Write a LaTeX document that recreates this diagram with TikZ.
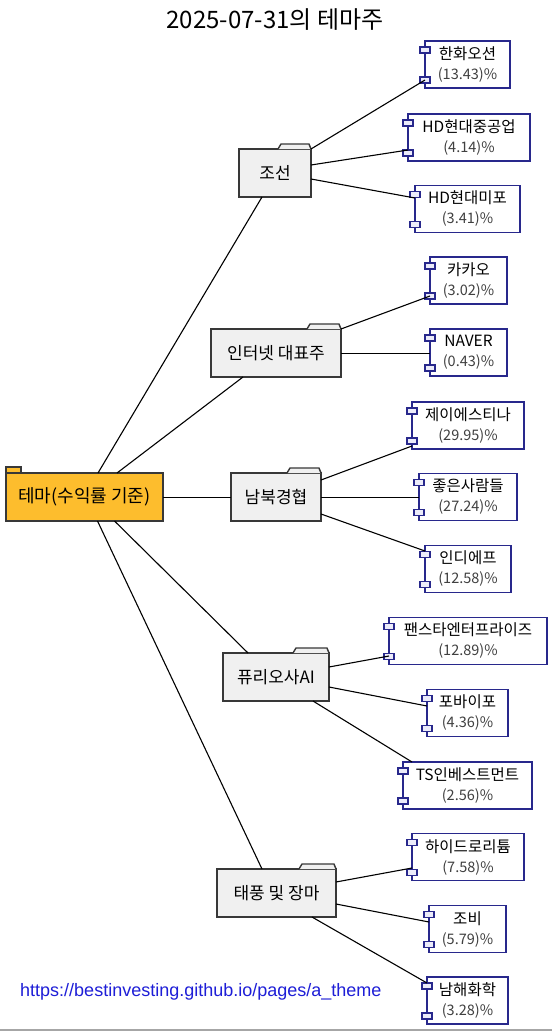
\documentclass[tikz,border=0pt]{standalone}
\usepackage{fontspec}
\setmainfont{Noto Sans CJK KR}
\newfontfamily\urlfont{Liberation Sans}
\usetikzlibrary{calc}
\definecolor{rootfill}{RGB}{253,189,45}
\definecolor{grpfill}{RGB}{240,240,240}
\definecolor{grpline}{RGB}{56,56,56}
\definecolor{leafline}{RGB}{40,40,140}
\definecolor{portfill}{RGB}{236,236,250}
\definecolor{urlblue}{RGB}{30,30,215}
\tikzset{
 grp/.style={draw=grpline, fill=grpfill, line width=1.4pt, minimum height=48pt, inner sep=0pt, outer sep=0pt, font=\fontsize{17}{20}\selectfont},
 rootbox/.style={grp, fill=rootfill, font=\fontsize{18}{20}\selectfont},
 leaf/.style={draw=leafline, fill=white, line width=1.2pt, minimum height=47pt, inner sep=0pt, outer sep=0pt, align=center, font=\fontsize{15.5}{19}\selectfont},
 port/.style={draw=leafline, fill=portfill, line width=1.2pt},
 edge/.style={draw=black, line width=1.1pt},
 tabline/.style={draw=grpline, line width=1.4pt, line join=round},
}
\newcommand\leafports[1]{%
 \draw[port] ($(#1.north west)+(-5,6)$) rectangle ++(10,6);
 \draw[port] ($(#1.south west)+(-5,-11)$) rectangle ++(10,6);}
\newcommand\foldertab[2]{%
 \fill[grpfill] ($(#1.north east)+(-#2,0)$) -- ++(3,-5) -- ($(#1.north east)+(-2,-5)$) -- (#1.north east) -- cycle;
 \draw[tabline] ($(#1.north east)+(-#2,0)$) -- ++(3,-5) -- ($(#1.north east)+(-2,-5)$) -- (#1.north east);}
\newcommand\pct[1]{\\[1pt]\textcolor{black!75}{\fontsize{14.5}{19}\selectfont(#1)\%}}
\begin{document}
\begin{tikzpicture}[x=1pt,y=-1pt]
\fill[white] (0,0) rectangle (552,1031);
\useasboundingbox (0,0) rectangle (552,1031);
\draw[gray!70, line width=2pt] (0,1029.5) -- (552,1029.5);
% title
\node[font=\fontsize{24}{26}\selectfont] (title) at (275,20) {2025-07-31의 테마주};
% root
\node[rootbox, minimum width=157pt] (root) at (84.5,497) {테마(수익률 기준)};
\draw[grpline, fill=rootfill, line width=1.4pt] (root.north west) rectangle ++(15,-6);
% groups
\node[grp, minimum width=72pt]  (joseon)   at (275,173)   {조선};
\node[grp, minimum width=130pt] (internet) at (276,353)   {인터넷 대표주};
\node[grp, minimum width=90pt]  (nambuk)   at (276,497)   {남북경협};
\node[grp, minimum width=106pt] (furiosa)  at (276,677)   {퓨리오사AI};
\node[grp, minimum width=119pt] (typhoon)  at (276.5,893) {태풍 및 장마};
\foldertab{joseon}{33}
\foldertab{internet}{34}
\foldertab{nambuk}{34}
\foldertab{furiosa}{36}
\foldertab{typhoon}{37}
% leaves
\node[leaf, minimum width=85pt]  (hanwha) at (467.5,64.5) {한화오션\pct{13.43}};
\node[leaf, minimum width=122pt] (hdhi)   at (469,137.5)  {HD현대중공업\pct{4.14}};
\node[leaf, minimum width=105pt] (hdmipo) at (467.5,209)  {HD현대미포\pct{3.41}};
\node[leaf, minimum width=77pt]  (kakao)  at (468.5,280.5) {카카오\pct{3.02}};
\node[leaf, minimum width=77pt]  (naver)  at (468.5,352.5) {NAVER\pct{0.43}};
\node[leaf, minimum width=112pt] (jestina) at (468,425.5) {제이에스티나\pct{29.95}};
\node[leaf, minimum width=98pt]  (goodppl) at (468,497)   {좋은사람들\pct{27.24}};
\node[leaf, minimum width=86pt]  (indief)  at (468,569)   {인디에프\pct{12.58}};
\node[leaf, minimum width=158pt] (panstar) at (468,641)   {팬스타엔터프라이즈\pct{12.89}};
\node[leaf, minimum width=81pt]  (fourby)  at (467.5,713) {포바이포\pct{4.36}};
\node[leaf, minimum width=129pt] (tsinv)   at (467.5,785.5) {TS인베스트먼트\pct{2.56}};
\node[leaf, minimum width=112pt] (hydro)   at (468,857)   {하이드로리튬\pct{7.58}};
\node[leaf, minimum width=77pt]  (jobi)    at (467.5,929) {조비\pct{5.79}};
\node[leaf, minimum width=81pt]  (namhae)  at (467.5,1000.5) {남해화학\pct{3.28}};
\foreach \n in {hanwha,hdhi,hdmipo,kakao,naver,jestina,goodppl,indief,panstar,fourby,tsinv,hydro,jobi,namhae}{\leafports{\n}}
% root edges
\draw[edge] ($(root.north)+(13.5,0)$) -- ($(joseon.south)+(-13,0)$);
\draw[edge] ($(root.north)+(32.5,0)$) -- ($(internet.south)+(-33,0)$);
\draw[edge] ($(root.east)+(0,0.5)$) -- ($(nambuk.west)+(0,0.5)$);
\draw[edge] ($(root.south)+(30,0)$) -- ($(furiosa.north)+(-28,0)$);
\draw[edge] ($(root.south)+(13,0)$) -- ($(typhoon.north)+(-14.5,0)$);
% group edges
\draw[edge] (joseon.north east) -- ($(hanwha.west)+(0,15.5)$);
\draw[edge] ($(joseon.east)+(0,-8)$) -- ($(hdhi.west)+(0,12.5)$);
\draw[edge] ($(joseon.east)+(0,6)$) -- ($(hdmipo.west)+(0,-11)$);
\draw[edge] (internet.north east) -- ($(kakao.west)+(0,15.5)$);
\draw[edge] ($(internet.east)+(0,0.5)$) -- ($(naver.west)+(0,1)$);
\draw[edge] ($(nambuk.east)+(0,-17)$) -- ($(jestina.west)+(0,20.5)$);
\draw[edge] ($(nambuk.east)+(0,0.5)$) -- ($(goodppl.west)+(0,0.5)$);
\draw[edge] ($(nambuk.east)+(0,17)$) -- ($(indief.west)+(0,-18)$);
\draw[edge] ($(furiosa.east)+(0,-10)$) -- ($(panstar.west)+(0,15)$);
\draw[edge] ($(furiosa.east)+(0,10)$) -- ($(fourby.west)+(0,-7)$);
\draw[edge] ($(furiosa.south)+(37,0)$) -- ($(tsinv.north west)+(9,0)$);
\draw[edge] ($(typhoon.east)+(0,-11)$) -- ($(hydro.west)+(0,11)$);
\draw[edge] ($(typhoon.east)+(0,11)$) -- ($(jobi.west)+(0,-7)$);
\draw[edge] ($(typhoon.south)+(35.5,0)$) -- ($(namhae.west)+(0,-17.5)$);
% url
\node[anchor=west, inner sep=0pt, font=\urlfont\fontsize{18}{20}\selectfont, text=urlblue] (url) at (20,992) {https://bestinvesting.github.io/pages/a\_theme};
\end{tikzpicture}
\end{document}
